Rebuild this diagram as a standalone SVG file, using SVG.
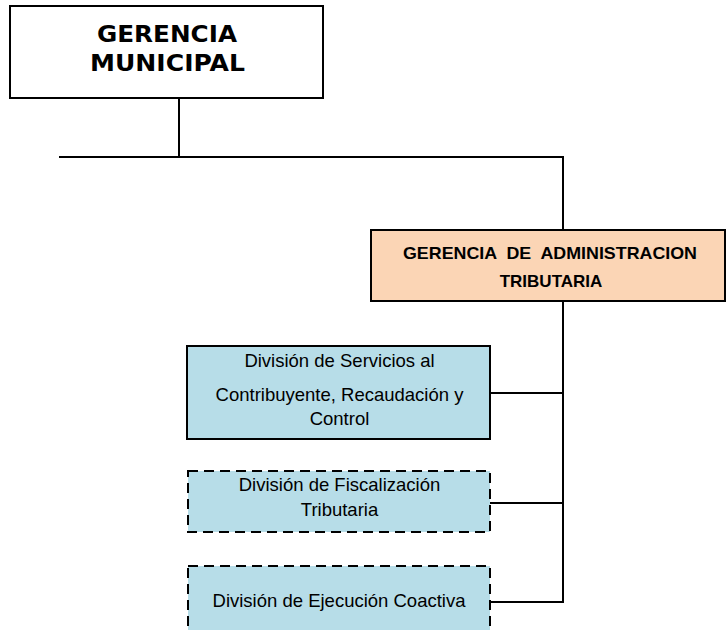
<svg xmlns="http://www.w3.org/2000/svg" width="726" height="630" viewBox="0 0 726 630">
<style>
.box{stroke:#000;stroke-width:2}
.white{fill:#fff}
.orange{fill:#FBD5B5}
.blue{fill:#B7DDE8}
.dash{stroke-dasharray:10 6}
.conn{fill:none;stroke:#000;stroke-width:2}
.t1{font-family:"DejaVu Sans",Verdana,sans-serif;font-weight:bold;font-size:22.5px;fill:#000;text-anchor:middle}
.t2{font-family:"Liberation Sans",Arial,sans-serif;font-weight:bold;font-size:17px;fill:#000;text-anchor:middle;white-space:pre}
.t3{font-family:"Liberation Sans",Arial,sans-serif;font-size:18.5px;fill:#000;text-anchor:middle}
</style>
<rect width="726" height="630" fill="#fff"/>
<g id="connectors">
<polyline class="conn" points="179,99 179,157"/>
<polyline class="conn" points="59,157 563,157 563,230"/>
<polyline class="conn" points="563,301 563,602 490,602"/>
<line class="conn" x1="490" y1="393" x2="563" y2="393"/>
<line class="conn" x1="490" y1="503" x2="563" y2="503"/>
</g>
<g id="gerencia-municipal">
<rect class="box white" x="10" y="6" width="313" height="92"/>
<text class="t1" x="167" y="42" textLength="140" lengthAdjust="spacingAndGlyphs">GERENCIA</text>
<text class="t1" x="167.5" y="71" textLength="155" lengthAdjust="spacingAndGlyphs">MUNICIPAL</text>
</g>
<g id="gerencia-administracion">
<rect class="box orange" x="371" y="230" width="354" height="71"/>
<text class="t2" x="550" y="259" xml:space="preserve" textLength="294" lengthAdjust="spacingAndGlyphs">GERENCIA  DE  ADMINISTRACION</text>
<text class="t2" x="551" y="287">TRIBUTARIA</text>
</g>
<g id="division-servicios">
<rect class="box blue" x="187" y="346" width="303" height="93"/>
<text class="t3" x="339.5" y="367">División de Servicios al</text>
<text class="t3" x="339.5" y="401">Contribuyente, Recaudación y</text>
<text class="t3" x="339.5" y="425">Control</text>
</g>
<g id="division-fiscalizacion">
<rect class="box blue dash" x="188" y="471" width="302" height="61"/>
<text class="t3" x="339.5" y="491">División de Fiscalización</text>
<text class="t3" x="339.5" y="516">Tributaria</text>
</g>
<g id="division-ejecucion">
<rect class="box blue dash" x="188" y="566" width="302" height="80"/>
<text class="t3" x="339" y="607">División de Ejecución Coactiva</text>
</g>
</svg>
